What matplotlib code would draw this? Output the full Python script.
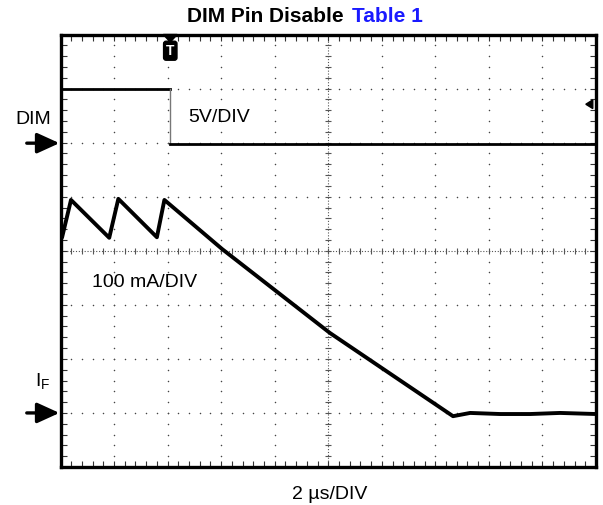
# Scope capture: DIM pin disable, DIM voltage and LED current I_F
import numpy as np
import matplotlib.pyplot as plt
from matplotlib.patches import Polygon

plt.rcParams['font.family'] = ['Liberation Sans', 'DejaVu Sans']
plt.rcParams['mathtext.fontset'] = 'custom'
plt.rcParams['mathtext.rm'] = 'Liberation Sans'

dim_t = [0.0, 2.05, 2.05, 10.0]
dim_v = [7.0, 7.0, 5.98, 5.98]

if_t = [0.0, 0.03, 0.196, 0.91, 1.08, 1.80, 1.94, 3.02, 5.03,
        7.33, 7.65, 8.21, 8.77, 9.33, 10.0]
if_v = [4.20, 4.25, 4.94, 4.24, 4.96, 4.25, 4.94, 4.03, 2.48,
        0.94, 1.00, 0.98, 0.98, 1.00, 0.98]

trig_t = 2.05
trig_level = 6.71

fig = plt.figure(figsize=(6.03, 5.05), dpi=100)
ax = fig.add_axes([60.5 / 603, 1 - 467 / 505, 535.5 / 603, 432.5 / 505])
ax.set_xlim(0, 10)
ax.set_ylim(0, 8)

# graticule: dotted grid, finer centre lines with tick crosses
minor = np.arange(0, 10.01, 0.2)
minor_y = np.arange(0, 8.01, 0.2)
for gx in range(1, 10):
    if gx == 5:
        continue
    ax.scatter(np.full(minor_y.size, gx), minor_y, s=1.2, c='#444444', lw=0, zorder=1)
for gy in range(1, 8):
    if gy == 4:
        continue
    ax.scatter(minor, np.full(minor.size, gy), s=1.2, c='#444444', lw=0, zorder=1)
ax.axvline(5, color='#555555', lw=0.8, ls=(0, (1, 1.6)), zorder=1)
ax.axhline(4, color='#555555', lw=0.8, ls=(0, (1, 1.6)), zorder=1)
ax.plot(minor, np.full(minor.size, 4), ls='none', marker='|', ms=5, mew=0.8, c='#555555')
ax.plot(np.full(minor_y.size, 5), minor_y, ls='none', marker='_', ms=5, mew=0.8, c='#555555')

ax.set_xticks(range(0, 11))
ax.set_yticks(range(0, 9))
ax.set_xticks(minor, minor=True)
ax.set_yticks(minor_y, minor=True)
ax.tick_params(which='both', direction='in', length=4, width=0.8, color='#333333',
               top=True, right=True, labelbottom=False, labelleft=False)
for s in ax.spines.values():
    s.set_linewidth(2.4)

# traces
ax.plot(dim_t[:2], dim_v[:2], color='black', lw=2.0, zorder=3)
ax.plot(dim_t[1:3], dim_v[1:3], color='#777777', lw=1.0, zorder=3)
ax.plot(dim_t[2:], dim_v[2:], color='black', lw=2.0, zorder=3)
ax.plot(if_t, if_v, color='black', lw=2.8, zorder=3)

# trigger markers
ax.add_patch(Polygon([[trig_t - 0.13, 8.0], [trig_t + 0.13, 8.0], [trig_t, 7.86]],
                     closed=True, color='black', clip_on=False, zorder=5))
ax.text(trig_t, 7.70, 'T', ha='center', va='center', color='white', fontsize=10,
        fontweight='bold', bbox=dict(boxstyle='round,pad=0.18', fc='black', ec='black'))
ax.add_patch(Polygon([[9.81, trig_level], [9.94, trig_level + 0.08], [9.94, trig_level - 0.08]],
                     closed=True, color='black', zorder=5))

# channel arrows and labels
arrow = dict(arrowstyle='-|>,head_length=0.68,head_width=0.31', lw=2.4, color='black',
             mutation_scale=20, shrinkA=0, shrinkB=0)
ax.annotate('', xy=(-0.02, 5.99), xytext=(-0.63, 5.99), arrowprops=arrow, annotation_clip=False)
ax.annotate('', xy=(-0.02, 1.0), xytext=(-0.63, 1.0), arrowprops=arrow, annotation_clip=False)
ax.text(-0.85, 6.42, 'DIM', fontsize=14, ha='left', va='center', clip_on=False)
ax.text(-0.476, 1.48, r'I$_\mathregular{F}$', fontsize=14, ha='left', va='baseline', clip_on=False)

ax.text(2.38, 6.38, '5V/DIV', fontsize=14, ha='left', va='baseline')
ax.text(0.588, 3.33, '100 mA/DIV', fontsize=14, ha='left', va='baseline')
fig.text(330 / 603, 1 - 499 / 505, '2 µs/DIV', fontsize=14, ha='center', va='baseline')

fig.text(344 / 603, 1 - 21.7 / 505, 'DIM Pin Disable', fontsize=15, fontweight='bold',
         ha='right', va='baseline')
fig.text(352 / 603, 1 - 21.7 / 505, 'Table 1', fontsize=15, fontweight='bold',
         color='#1a1aff', ha='left', va='baseline')

fig.savefig('out.png', dpi=100)
